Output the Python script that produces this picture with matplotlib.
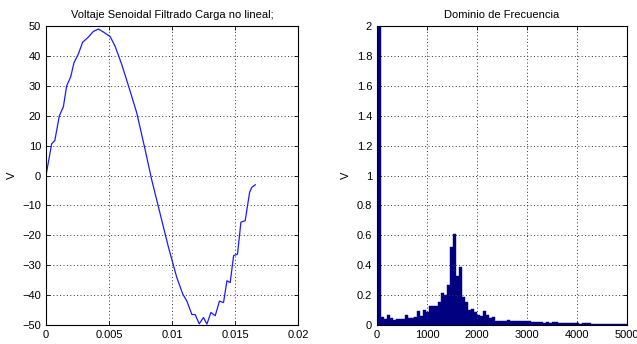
import matplotlib
matplotlib.use("Agg")
import matplotlib.pyplot as plt
from matplotlib.ticker import FuncFormatter
import numpy as np

plt.rcParams['font.family'] = ['Liberation Sans', 'DejaVu Sans']
plt.rcParams['font.size'] = 8

# ---------------- datos: señal en el tiempo ----------------
t = [0, 0.00045, 0.0007, 0.00106, 0.00138, 0.00164, 0.00196, 0.00222, 0.00257,
     0.00291, 0.00336, 0.00376, 0.00416, 0.00456, 0.00509, 0.00548, 0.00601,
     0.00668, 0.0072, 0.00787, 0.0084, 0.00906, 0.00972, 0.01038, 0.01086,
     0.01118, 0.01158, 0.01184, 0.01216, 0.0125, 0.01277, 0.01309, 0.01343,
     0.01377, 0.01409, 0.01436, 0.01462, 0.01489, 0.0152, 0.01547, 0.01581,
     0.01616, 0.01634, 0.01661]
v = [0, 10.6, 11.7, 20, 23, 30, 33, 37.7, 40.7, 44.6, 46.3, 48.2, 49, 48, 46.5,
     43.3, 37.2, 28.2, 21, 8.6, -1.6, -12.8, -24, -34.1, -39.7, -42, -46.5,
     -46.5, -49.6, -47.5, -49.7, -45.8, -46.9, -42, -42.5, -35.2, -35.8, -26.8,
     -26.3, -15.6, -15.1, -5.6, -3.9, -3.1]

# ---------------- datos: espectro (resolucion 60 Hz) ----------------
df = 60
mag = [0.1, 2.4, 0.055, 0.04, 0.065, 0.05, 0.035, 0.04, 0.04, 0.04, 0.07, 0.05,
       0.05, 0.055, 0.095, 0.06, 0.1, 0.09, 0.125, 0.13, 0.125, 0.155, 0.215,
       0.2, 0.27, 0.52, 0.61, 0.33, 0.385, 0.185, 0.155, 0.1, 0.105, 0.09,
       0.065, 0.06, 0.095, 0.07, 0.05, 0.055, 0.03, 0.03, 0.025, 0.03,
       0.035, 0.03, 0.025, 0.03, 0.03, 0.025, 0.025, 0.025, 0.02, 0.02, 0.02,
       0.02, 0.015, 0.02, 0.015, 0.02, 0.018, 0.015, 0.015, 0.015, 0.012,
       0.012, 0.015, 0.012, 0.01, 0.012, 0.015, 0.012, 0.01, 0.008, 0.01,
       0.008, 0.01, 0.01, 0.008, 0.008, 0.01, 0.008, 0.006, 0.008]
freq = np.arange(len(mag)) * df


def estilo_matlab(ax):
    ax.grid(True, linestyle=(0, (1, 2.5)), color='#333333', linewidth=0.7)
    ax.tick_params(direction='in', top=True, right=True, length=3, width=0.6)
    for s in ax.spines.values():
        s.set_linewidth(0.8)


fig = plt.figure(figsize=(6.37, 3.44), dpi=100)

ax1 = fig.add_axes([0.0722, 0.0552, 0.3956, 0.869])
ax1.plot(t, v, color='#1a1aff', linewidth=0.9)
ax1.set_xlim(0, 0.02)
ax1.set_ylim(-50, 50)
ax1.set_xticks([0, 0.005, 0.01, 0.015, 0.02])
ax1.xaxis.set_major_formatter(FuncFormatter(lambda x, p: '%g' % x))
ax1.set_yticks(np.arange(-50, 51, 10))
ax1.set_ylabel('V')
ax1.set_title('Voltaje Senoidal Filtrado Carga no lineal;', fontsize=8)
estilo_matlab(ax1)

ax2 = fig.add_axes([0.5918, 0.0552, 0.3925, 0.869])
ax2.bar(freq, mag, width=df, color='#000080', edgecolor='#000080', linewidth=0.3)
ax2.set_xlim(0, 5000)
ax2.set_ylim(0, 2)
ax2.set_xticks(np.arange(0, 5001, 1000))
ax2.set_yticks(np.arange(0, 2.01, 0.2))
ax2.yaxis.set_major_formatter(FuncFormatter(lambda y, p: '%g' % round(y, 1)))
ax2.set_ylabel('V')
ax2.set_title('Dominio de Frecuencia', fontsize=8)
estilo_matlab(ax2)

fig.savefig('out.png', dpi=100)
